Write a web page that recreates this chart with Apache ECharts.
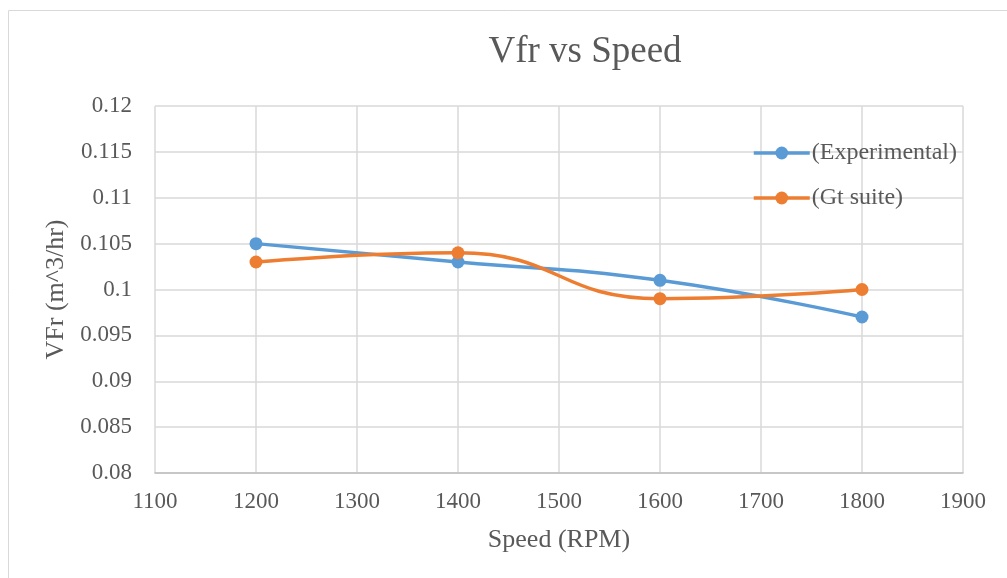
<!DOCTYPE html>
<html>
<head>
<meta charset="utf-8">
<script src="https://cdn.jsdelivr.net/npm/echarts@6/dist/echarts.min.js"></script>
<style>
html,body{margin:0;padding:0;background:#fff;}
#chart{width:1007px;height:578px;}
</style>
</head>
<body>
<div id="chart"></div>
<script>
// Volume flow rate against engine speed
const speeds = [1200, 1400, 1600, 1800];
const experimental = [0.105, 0.103, 0.101, 0.097];
const gtSuite = [0.103, 0.104, 0.099, 0.100];
const seriesNames = ['(Experimental)', '(Gt suite)'];
const titleText = 'Vfr vs Speed';
const xName = 'Speed (RPM)';
const yName = 'VFr (m^3/hr)';

const font = '"Liberation Serif", "Times New Roman", serif';
const textColor = '#595959';

const chart = echarts.init(document.getElementById('chart'));

function pairs(xs, ys) { return xs.map((x, i) => [x, ys[i]]); }

chart.setOption({
  animation: false,
  backgroundColor: '#fff',
  graphic: [
    {
      type: 'rect',
      shape: { x: 8.5, y: 10.5, width: 1010, height: 580 },
      style: { fill: 'none', stroke: '#d9d9d9', lineWidth: 1 },
      silent: true
    },
    {
      type: 'text',
      x: 585, y: 52,
      style: {
        text: titleText, fontFamily: font, fontSize: 37, fill: textColor,
        align: 'center', verticalAlign: 'middle'
      },
      silent: true
    }
  ],
  legend: {
    orient: 'vertical',
    left: 752,
    top: 141,
    padding: 0,
    itemWidth: 56,
    itemHeight: 16,
    itemGap: 21,
    lineStyle: { width: 3.5 },
    textStyle: { fontFamily: font, fontSize: 24, color: textColor, padding: [0, 0, 0, -3] },
    data: seriesNames
  },
  grid: { left: 155, right: 44, top: 106, bottom: 105 },
  xAxis: {
    type: 'value',
    min: 1100, max: 1900, interval: 100,
    name: xName,
    nameLocation: 'middle',
    nameGap: 54,
    nameTextStyle: { fontFamily: font, fontSize: 26, color: textColor },
    axisLine: { show: true, lineStyle: { color: '#bfbfbf', width: 1.5 } },
    axisTick: { show: false },
    axisLabel: {
      fontFamily: font, fontSize: 23, color: textColor, margin: 17,
      formatter: v => String(v)
    },
    splitLine: { show: true, lineStyle: { color: '#d9d9d9', width: 1.5 } }
  },
  yAxis: {
    type: 'value',
    min: 0.08, max: 0.12, interval: 0.005,
    name: yName,
    nameLocation: 'middle',
    nameGap: 84,
    nameTextStyle: { fontFamily: font, fontSize: 26, color: textColor },
    axisLine: { show: false },
    axisTick: { show: false },
    axisLabel: {
      fontFamily: font, fontSize: 23, color: textColor, margin: 23,
      formatter: v => String(+v.toFixed(3))
    },
    splitLine: { show: true, lineStyle: { color: '#d9d9d9', width: 1.5 } }
  },
  series: [
    {
      name: seriesNames[0],
      type: 'line',
      smooth: 0.5,
      data: pairs(speeds, experimental),
      symbol: 'circle',
      symbolSize: 13,
      itemStyle: { color: '#5b9bd5' },
      lineStyle: { width: 3.5, color: '#5b9bd5' }
    },
    {
      name: seriesNames[1],
      type: 'line',
      smooth: 0.5,
      data: pairs(speeds, gtSuite),
      symbol: 'circle',
      symbolSize: 13,
      itemStyle: { color: '#ed7d31' },
      lineStyle: { width: 3.5, color: '#ed7d31' }
    }
  ]
});
</script>
</body>
</html>
